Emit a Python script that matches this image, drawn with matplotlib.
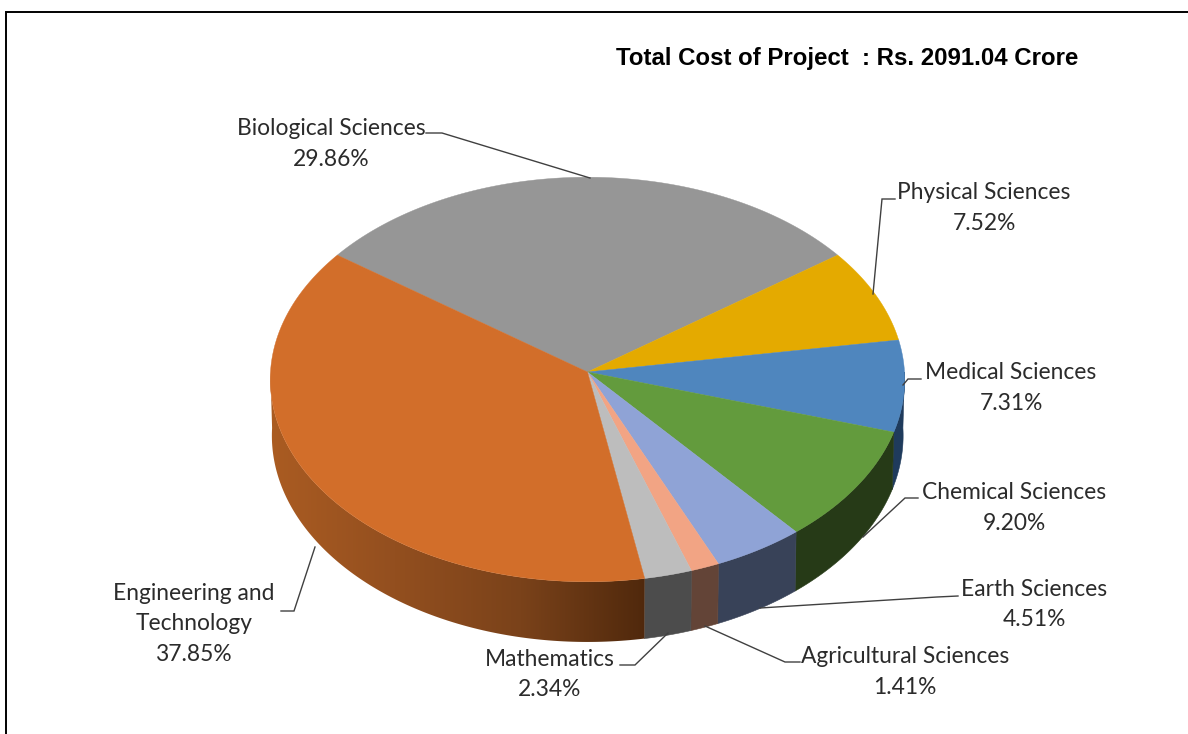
import numpy as np
import matplotlib
matplotlib.use("Agg")
import matplotlib.pyplot as plt
from matplotlib.colors import LinearSegmentedColormap
from matplotlib.patches import Polygon

categories = [
    "Biological Sciences",
    "Physical Sciences",
    "Medical Sciences",
    "Chemical Sciences",
    "Earth Sciences",
    "Agricultural Sciences",
    "Mathematics",
    "Engineering and\nTechnology",
]
shares = [29.86, 7.52, 7.31, 9.20, 4.51, 1.41, 2.34, 37.85]
title = "Total Cost of Project  : Rs. 2091.04 Crore"

top_colors = ["#969696", "#E4AA00", "#4F86BE", "#639B3D", "#8FA3D6", "#F2A484", "#BDBDBD", "#D26E2A"]
side_colors = ["#4A4A4A", "#7A5C00", "#1F3B5C", "#263A17", "#384258", "#634437", "#4C4C4C", None]

# label anchors: centre x, first baseline y, then the leader polyline
label_pos = [
    (331, 135, [(426, 133), (442, 133), (590, 178)]),
    (984, 199, [(895, 199), (882, 199), (873, 294)]),
    (1011, 379, [(921, 379), (908, 379), (903, 385)]),
    (1014, 499, [(918, 498), (905, 498), (863, 537)]),
    (1034, 596, [(958, 596), (937, 597), (760, 608)]),
    (905, 663, [(800, 662), (785, 662), (705, 626)]),
    (550, 666, [(620, 665), (635, 665), (668, 633)]),
    (194, 600, [(281, 611), (294, 611), (315, 547)]),
]

CX, CY = 587.5, 372
RX, RY = 317, 202
PERSP = 0.037
START = -53.75


def rim(deg, xscale=1.0, yscale=1.0, dy=0.0):
    # unit circle seen in perspective, angle clockwise from the top
    t = np.radians(deg)
    u, v = np.sin(t), np.cos(t)
    w = 1 + PERSP * v
    return CX + xscale * RX * u / w, CY + dy - yscale * RY * v / w


fig, ax = plt.subplots(figsize=(11.88, 7.34), dpi=100)
fig.subplots_adjust(0, 0, 1, 1)
ax.axis("off")

edges = START + np.cumsum([0] + shares) * 3.6

# side wall, only the front half shows
for i in range(len(shares)):
    lo, hi = max(edges[i], 90), min(edges[i + 1], 270)
    if hi <= lo:
        continue
    a = np.linspace(lo, hi, 120)
    x1, y1 = rim(a)
    x2, y2 = rim(a[::-1], 0.995, 1.02, 56)
    pts = np.column_stack([np.r_[x1, x2], np.r_[y1, y2]])
    if side_colors[i] is not None:
        ax.add_patch(Polygon(pts, closed=True, fc=side_colors[i], ec=side_colors[i], lw=0.4))
    else:
        cmap = LinearSegmentedColormap.from_list("wall", ["#4F280C", "#7A421A", "#934F1F", "#AB5C22"])
        grad = np.linspace(1, 0, 256).reshape(1, -1)
        im = ax.imshow(grad, cmap=cmap, aspect="auto", extent=(268, 648, 650, 370), zorder=1)
        clip = Polygon(pts, closed=True, transform=ax.transData, fc="none", ec="none")
        ax.add_patch(clip)
        im.set_clip_path(clip)

# top face
apex = rim(np.array([90.0]))[1][0]
for i in range(len(shares)):
    a = np.linspace(edges[i], edges[i + 1], 200)
    x, y = rim(a)
    pts = np.column_stack([np.r_[CX, x], np.r_[apex, y]])
    ax.add_patch(Polygon(pts, closed=True, fc=top_colors[i], ec=top_colors[i], lw=0.3, zorder=2))

for name, val, (lx, ly, leader) in zip(categories, shares, label_pos):
    lines = name.split("\n") + [f"{val:.2f}%"]
    for k, line in enumerate(lines):
        ax.text(lx, ly + k * 30.5, line, ha="center", va="baseline", fontsize=16.4,
                family="Lato", color="#2B2B2B", zorder=4)
    ax.plot(*zip(*leader), color="#404040", lw=1.0, zorder=3, solid_joinstyle="miter")

ax.text(847.5, 65, title, ha="center", va="baseline", fontsize=17.3, fontweight="bold",
        family="Liberation Sans", color="black")

# frame of the original slide, open on the right
ax.plot([6, 6, 1188], [734, 12, 12], color="black", lw=1.4, solid_joinstyle="miter")

ax.set_xlim(0, 1188)
ax.set_ylim(734, 0)
fig.savefig("out.png", dpi=100, facecolor="white")
